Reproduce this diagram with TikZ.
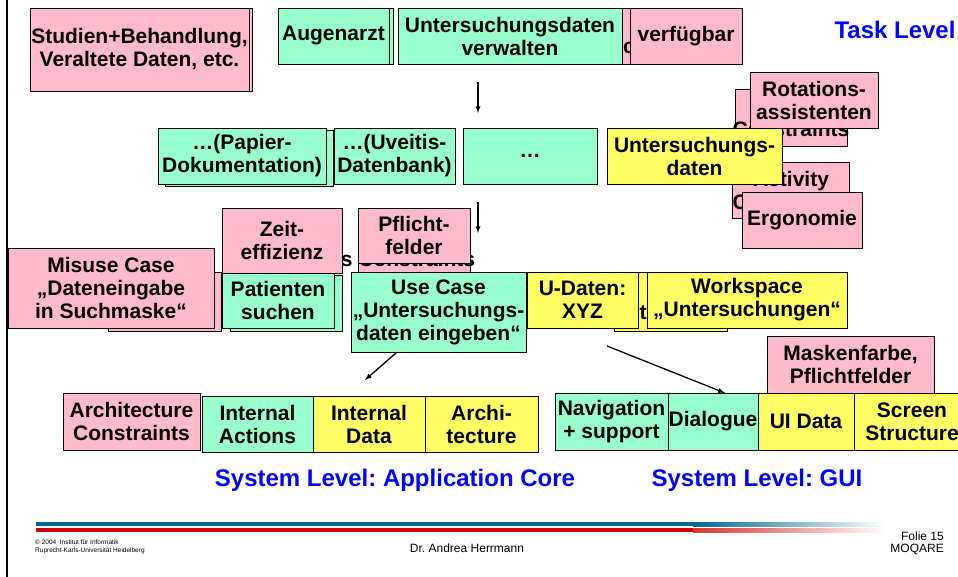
\documentclass[tikz,border=0pt]{standalone}
\usepackage{fontspec}
\setmainfont{Liberation Sans}
\usetikzlibrary{arrows.meta}
\tikzset{>=latex}
\frenchspacing
\definecolor{pinkc}{RGB}{255,187,204}
\definecolor{greenc}{RGB}{153,255,204}
\definecolor{yellowc}{RGB}{255,255,102}
\definecolor{bandblue}{RGB}{0,105,145}
\definecolor{bandred}{RGB}{210,0,0}
\tikzset{card/.style = {shape=rectangle,draw,line width=0.8pt,inner sep=0pt,align=center,
    font=\fontsize{21}{23}\selectfont\bfseries}}
\tikzset{pinkbox/.style = {card,fill=pinkc}}
\tikzset{greenbox/.style = {card,fill=greenc}}
\tikzset{yellowbox/.style = {card,fill=yellowc}}
\tikzset{dims/.style 2 args = {minimum width=#1pt,minimum height=#2pt}}
\tikzset{level/.style = {text=blue,inner sep=0pt,font=\fontsize{24}{26}\selectfont\bfseries}}
\tikzset{footer/.style = {inner sep=0pt,font=\fontsize{12}{14}\selectfont}}
\tikzset{smallprint/.style = {inner sep=0pt,align=left,font=\fontsize{6.5}{8}\selectfont}}
\tikzset{conn/.style = {->,line width=1.3pt}}

\begin{document}
\begin{tikzpicture}[x=1pt,y=-1pt]
                \useasboundingbox (0,0) rectangle (958,577);
                \draw[line width=2pt] (6.5,0) -- (6.5,577);

                % task level
                \node[pinkbox, dims={219}{83}] (studienB) at (142.5,49.5) {};
                \node[pinkbox, dims={219}{83}] (studien) at (139.5,49.5) {Studien+Behandlung,\\Veraltete Daten, etc.};
                \node[greenbox, dims={111}{56}] (augenarztB) at (337.5,36) {};
                \node[greenbox, dims={111}{56}] (augenarzt) at (333.5,36) {Augenarzt};
                \node[pinkbox, dims={112}{56}] (verfuegbarB) at (668,36) {};
                \node[card, draw=none] (cfrag) at (629,47.5) {c};
                \node[greenbox, dims={224}{56}] (verwalten) at (510,36) {Untersuchungsdaten\\verwalten};
                \node[pinkbox, dims={112}{56}] (verfuegbar) at (686,36) {verfügbar};
                \node[level] (task) at (895,30) {Task Level};

                \coordinate (taskFoot) at (478,82);
                \coordinate (subTop) at (478,113);
                \draw[conn] (taskFoot) -- (subTop);

                % subtasks
                \node[greenbox, dims={168}{56}] (papierB) at (249,158) {};
                \node[greenbox, dims={168}{56}] (papier) at (242,156) {…(Papier-\\Dokumentation)};
                \node[greenbox, dims={121}{56}] (uveitis) at (394.5,156) {…(Uveitis-\\Datenbank)};
                \node[greenbox, dims={134}{56}] (dots) at (530,156) {…};
                \node[pinkbox, dims={112}{57}] (qualB) at (791,117.5) {};
                \node[card, draw=none] (qualtxt) at (791,129) {Constraints};
                \node[pinkbox, dims={112}{56}] (activB) at (791,190) {Activity\\Constraints};
                \node[yellowbox, dims={175}{56}] (udaten) at (694.5,156) {Untersuchungs-\\daten};
                \node[pinkbox, dims={128}{56}] (rotation) at (814,100) {Rotations-\\assistenten};
                \node[pinkbox, dims={120}{56}] (ergonomie) at (802,220) {Ergonomie};

                \coordinate (subFoot) at (478,202);
                \coordinate (ucTop) at (478,233);
                \draw[conn] (subFoot) -- (ucTop);

                % use cases
                \node[pinkbox, dims={113}{59}] (misuseB) at (164.5,301.5) {};
                \node[pinkbox, dims={206}{80}] (misuse) at (111,288) {Misuse Case\\„Dateneingabe\\in Suchmaske“};
                \node[pinkbox, dims={112}{64}] (pflichtB) at (414,240) {};
                \node[card, draw=none] (pflichttxt) at (408,259) {s Constraints};
                \node[greenbox, dims={112}{56}] (patientenB) at (286,303) {};
                \node[greenbox, dims={112}{55}] (patienten) at (278,300.5) {Patienten\\suchen};
                \node[pinkbox, dims={120}{65}] (zeit) at (282,240.5) {Zeit-\\effizienz};
                \node[pinkbox, dims={112}{55}] (pflicht) at (414,235.5) {Pflicht-\\felder};
                \node[yellowbox, dims={113}{59}] (tB) at (670.5,301.5) {};
                \node[card, draw=none] (tfrag) at (643,313) {t};
                \node[greenbox, dims={175}{80}] (usecase) at (438.5,312) {Use Case\\„Untersuchungs-\\daten eingeben“};
                \node[yellowbox, dims={111}{56}] (xyz) at (582.5,300) {U-Daten:\\XYZ};
                \node[yellowbox, dims={200}{56}] (workspace) at (747,300) {Workspace\\„Untersuchungen“};

                % system level
                \node[pinkbox, dims={137}{57}] (archcons) at (131.5,421.5) {Architecture\\Constraints};
                \node[greenbox, dims={111}{56}] (intact) at (257.5,424) {Internal\\Actions};
                \node[yellowbox, dims={112}{56}] (intdata) at (369,424) {Internal\\Data};
                \node[yellowbox, dims={113}{56}] (archi) at (481.5,424) {Archi-\\tecture};
                \node[pinkbox, dims={167}{57}] (maske) at (850.5,364.5) {Maskenfarbe,\\Pflichtfelder};
                \node[greenbox, dims={113}{57}] (navig) at (611.5,421.5) {Navigation\\+ support};
                \node[greenbox, dims={90}{57}] (dialog) at (713,421.5) {Dialogue};
                \node[yellowbox, dims={96}{57}] (uidata) at (806,421.5) {UI Data};
                \node[yellowbox, dims={116}{57}] (screen) at (912,421.5) {Screen\\Structure};

                \coordinate (coreTip) at (365,380);
                \coordinate (guiTail) at (607,346);
                \coordinate (guiTip) at (725,393);
                \draw[conn] (usecase.224) -- (coreTip);
                \draw[conn] (guiTail) -- (guiTip);

                \node[level] (corelevel) at (395,480) {System Level: Application Core};
                \node[level] (guilevel) at (757,480) {System Level: GUI};

                % footer
                \fill[bandblue] (36,522) rectangle (693,526);
                \shade[left color=bandblue, right color=white] (693,522) rectangle (885,526);
                \fill[bandred] (36,528) rectangle (693,532);
                \shade[left color=bandred!80, right color=white] (693,528) rectangle (885,532);
                \node[footer, anchor=east] (folie) at (944,536) {Folie 15};
                \node[footer, anchor=east] (moqare) at (944,549) {MOQARE};
                \node[footer] (author) at (467,548) {Dr. Andrea Herrmann};
                \node[smallprint, anchor=west] (copy) at (35,547) {© 2004\ \ Institut für Informatik\\Ruprecht-Karls-Universität Heidelberg};
\end{tikzpicture}
\end{document}
